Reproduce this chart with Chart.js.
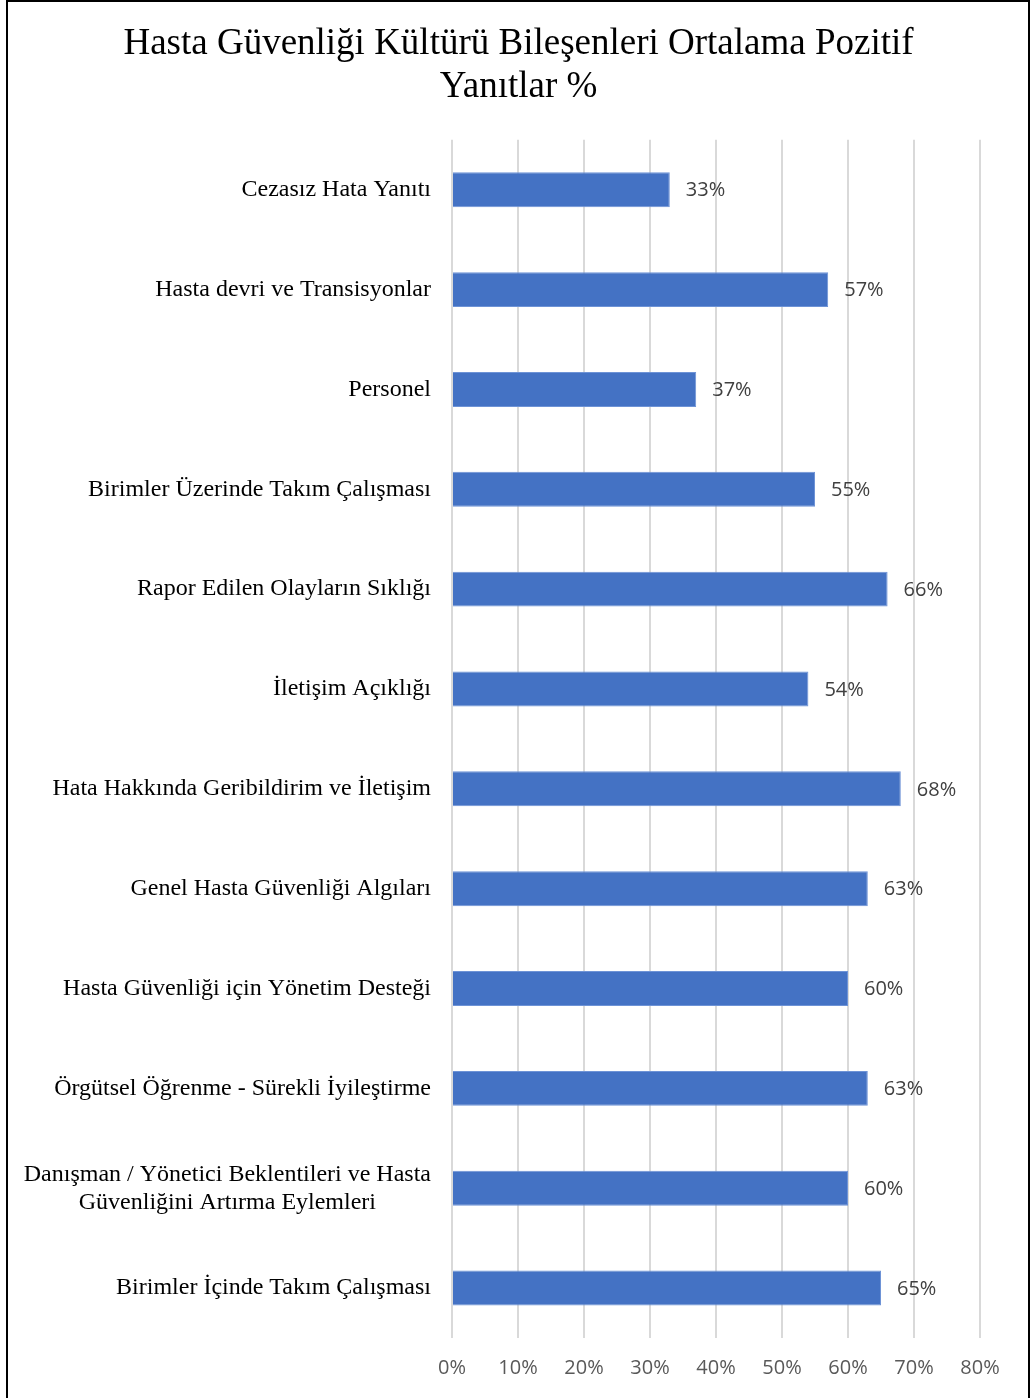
<!DOCTYPE html>
<html lang="tr">
<head>
<meta charset="utf-8">
<title>Hasta Güvenliği Kültürü</title>
<script src="https://cdn.jsdelivr.net/npm/chart.js@4.4.1/dist/chart.umd.min.js"></script>
<style>
  html, body { margin:0; padding:0; background:#fff; }
  #wrap { position:relative; width:1031px; height:1398px; overflow:hidden; }
  #frame { position:absolute; left:6px; top:0; width:1020px; height:1420px; border:2px solid #000; pointer-events:none; }
  canvas { position:absolute; left:0; top:0; }
</style>
</head>
<body>
<div id="wrap">
  <canvas id="chart" width="1031" height="1398"></canvas>
  <div id="frame"></div>
</div>
<script>
// chart data
const titleLines = ["Hasta Güvenliği Kültürü Bileşenleri Ortalama Pozitif", "Yanıtlar %"];
const categories = [
  "Cezasız Hata Yanıtı",
  "Hasta devri ve Transisyonlar",
  "Personel",
  "Birimler Üzerinde Takım Çalışması",
  "Rapor Edilen Olayların Sıklığı",
  "İletişim Açıklığı",
  "Hata Hakkında Geribildirim ve İletişim",
  "Genel Hasta Güvenliği Algıları",
  "Hasta Güvenliği için Yönetim Desteği",
  "Örgütsel Öğrenme - Sürekli İyileştirme",
  ["Danışman / Yönetici Beklentileri ve Hasta", "Güvenliğini Artırma Eylemleri"],
  "Birimler İçinde Takım Çalışması"
];
const positive = [33, 57, 37, 55, 66, 54, 68, 63, 60, 63, 60, 65];
const xTicks = [0, 10, 20, 30, 40, 50, 60, 70, 80];

// category labels: right edge fixed, multi-line blocks centred
const catLabels = {
  id: "catLabels",
  afterDraw(chart){
    const ctx = chart.ctx, y = chart.scales.y;
    const right = chart.chartArea.left - 21;
    ctx.save();
    ctx.font = "24px 'Liberation Serif', 'Times New Roman', serif";
    ctx.fillStyle = "#000";
    ctx.textBaseline = "middle";
    ctx.textAlign = "center";
    categories.forEach((lab, i)=>{
      const lines = Array.isArray(lab) ? lab : [lab];
      const w = Math.max(...lines.map(l=>ctx.measureText(l).width));
      const cx = right - w/2;
      const cy = y.getPixelForValue(i);
      const lh = 28;
      lines.forEach((l, k)=>{
        ctx.fillText(l, cx, cy + (k - (lines.length-1)/2)*lh);
      });
    });
    ctx.restore();
  }
};

// value labels after each bar
const valueLabels = {
  id: "valueLabels",
  afterDatasetsDraw(chart){
    const ctx = chart.ctx;
    const meta = chart.getDatasetMeta(0);
    ctx.save();
    ctx.font = "20px 'Open Sans', sans-serif";
    ctx.fillStyle = "#404040";
    ctx.textBaseline = "middle";
    ctx.textAlign = "left";
    meta.data.forEach((bar, i)=>{
      ctx.fillText(positive[i] + "%", bar.x + 16, bar.y + 1);
    });
    ctx.restore();
  }
};

new Chart(document.getElementById("chart"), {
  type: "bar",
  data: {
    labels: categories,
    datasets: [{
      data: positive,
      backgroundColor: "#4472C4",
      borderColor: "#6E93D6",
      borderWidth: 1,
      barPercentage: 0.35,
      categoryPercentage: 1
    }]
  },
  options: {
    indexAxis: "y",
    responsive: false,
    animation: false,
    layout: { padding: { left: 57, right: 51, top: 0, bottom: 0 } },
    plugins: {
      legend: { display: false },
      tooltip: { enabled: false },
      title: {
        display: true,
        text: titleLines,
        color: "#000",
        font: { family: "'Liberation Serif', 'Times New Roman', serif", size: 37, weight: "normal", lineHeight: 1.16 },
        padding: { top: 23, bottom: 31 }
      }
    },
    scales: {
      x: {
        min: 0, max: 80,
        afterBuildTicks: s => { s.ticks = xTicks.map(v=>({value:v})); },
        grid: { color: "#D9D9D9", lineWidth: 2, drawTicks: false },
        border: { display: false },
        ticks: {
          color: "#595959",
          font: { family: "'Open Sans', sans-serif", size: 20 },
          padding: 18,
          callback: v => v + "%"
        }
      },
      y: {
        grid: { display: false },
        border: { display: false },
        ticks: { display: false },
        afterFit: s => { s.width = 395; }
      }
    }
  },
  plugins: [catLabels, valueLabels]
});
</script>
</body>
</html>
